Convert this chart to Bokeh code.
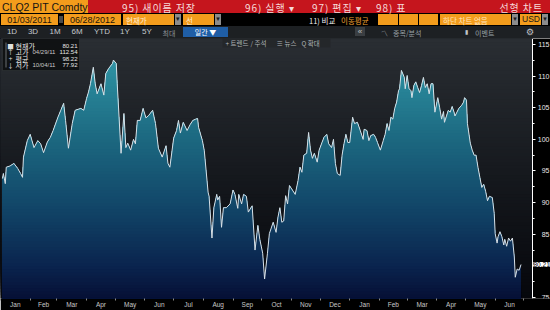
import numpy as np
import pandas as pd
from bokeh.plotting import figure
from bokeh.models import Range1d, FixedTicker, DatetimeTickFormatter, Label, BoxAnnotation, Div
from bokeh.layouts import column
from bokeh.embed import file_html
from bokeh.resources import INLINE

# ---------------- data ----------------
dates = [
    "2011-01-03", "2011-01-04", "2011-01-06", "2011-01-07", "2011-01-11", "2011-01-15", "2011-01-19", "2011-01-22", "2011-01-24", "2011-01-25", "2011-01-29",
    "2011-02-01", "2011-02-05", "2011-02-09", "2011-02-12", "2011-02-15", "2011-02-19", "2011-02-22", "2011-02-25",
    "2011-03-02", "2011-03-05", "2011-03-08", "2011-03-10", "2011-03-13", "2011-03-17", "2011-03-20", "2011-03-26", "2011-03-29",
    "2011-04-01", "2011-04-03", "2011-04-05", "2011-04-08", "2011-04-10", "2011-04-12", "2011-04-16", "2011-04-19", "2011-04-21", "2011-04-24", "2011-04-28", "2011-04-29",
    "2011-05-02", "2011-05-03", "2011-05-07", "2011-05-10", "2011-05-12", "2011-05-14", "2011-05-17", "2011-05-20", "2011-05-22", "2011-05-24", "2011-05-27", "2011-05-30",
    "2011-06-02", "2011-06-05", "2011-06-09", "2011-06-12", "2011-06-15", "2011-06-19", "2011-06-23", "2011-06-25", "2011-06-27",
    "2011-07-01", "2011-07-04", "2011-07-06", "2011-07-08", "2011-07-11", "2011-07-15", "2011-07-18", "2011-07-21", "2011-07-24", "2011-07-26", "2011-07-27", "2011-07-31",
    "2011-08-02", "2011-08-06", "2011-08-07", "2011-08-10", "2011-08-12", "2011-08-15", "2011-08-16", "2011-08-18", "2011-08-20", "2011-08-22", "2011-08-25", "2011-08-29",
    "2011-09-01", "2011-09-03", "2011-09-06", "2011-09-07", "2011-09-10", "2011-09-12", "2011-09-15", "2011-09-17", "2011-09-21", "2011-09-24", "2011-09-27", "2011-09-29",
    "2011-10-02", "2011-10-04", "2011-10-07", "2011-10-09", "2011-10-13", "2011-10-16", "2011-10-18", "2011-10-20", "2011-10-22", "2011-10-24", "2011-10-26", "2011-10-28", "2011-10-30",
    "2011-11-02", "2011-11-05", "2011-11-08", "2011-11-10", "2011-11-12", "2011-11-14", "2011-11-17", "2011-11-19", "2011-11-21", "2011-11-23", "2011-11-25", "2011-11-28", "2011-11-30",
    "2011-12-03", "2011-12-05", "2011-12-08", "2011-12-10", "2011-12-13", "2011-12-15", "2011-12-17", "2011-12-19", "2011-12-22", "2011-12-24", "2011-12-26", "2011-12-28", "2011-12-30",
    "2012-01-01", "2012-01-04", "2012-01-06", "2012-01-09", "2012-01-12", "2012-01-15", "2012-01-16", "2012-01-19", "2012-01-21", "2012-01-23", "2012-01-26", "2012-01-28", "2012-01-30",
    "2012-02-02", "2012-02-05", "2012-02-07", "2012-02-09", "2012-02-11", "2012-02-13", "2012-02-15", "2012-02-17", "2012-02-19", "2012-02-21", "2012-02-22", "2012-02-24", "2012-02-27", "2012-02-28",
    "2012-03-01", "2012-03-03", "2012-03-05", "2012-03-06", "2012-03-08", "2012-03-10", "2012-03-12", "2012-03-14", "2012-03-16", "2012-03-18", "2012-03-20", "2012-03-22", "2012-03-24", "2012-03-26", "2012-03-28", "2012-03-30",
    "2012-04-02", "2012-04-04", "2012-04-06", "2012-04-08", "2012-04-09", "2012-04-13", "2012-04-15", "2012-04-17", "2012-04-19", "2012-04-20", "2012-04-22", "2012-04-24", "2012-04-27", "2012-04-29", "2012-04-30",
    "2012-05-02", "2012-05-03", "2012-05-06", "2012-05-08", "2012-05-10", "2012-05-12", "2012-05-14", "2012-05-16", "2012-05-18", "2012-05-20", "2012-05-22", "2012-05-24", "2012-05-26", "2012-05-29", "2012-05-31",
    "2012-06-01", "2012-06-03", "2012-06-04", "2012-06-06", "2012-06-08", "2012-06-10", "2012-06-11", "2012-06-13", "2012-06-15", "2012-06-17", "2012-06-19", "2012-06-21", "2012-06-22", "2012-06-24", "2012-06-26", "2012-06-28",
]
prices = [
    93.8, 94.6, 93.0, 95.6, 95.8, 96.2, 95.4, 94.6, 94.0, 97.2, 99.8,
    100.8, 98.7, 99.8, 99.3, 97.9, 99.6, 100.3, 101.4,
    103.5, 104.6, 105.7, 103.0, 98.6, 102.5, 104.6, 104.9, 104.6,
    106.5, 107.5, 108.8, 111.4, 108.8, 107.2, 108.8, 107.0, 110.4, 111.2, 112.0, 112.54,
    112.0, 108.8, 97.8, 104.1, 98.7, 99.4, 98.3, 100.0, 99.3, 103.0, 103.0, 104.9,
    103.4, 103.8, 104.6, 102.5, 98.6, 97.2, 99.0, 96.2, 95.6,
    100.2, 101.4, 103.0, 101.0, 102.7, 101.4, 102.3, 103.0, 103.2, 103.3, 101.9, 99.8,
    98.2, 91.6, 91.0, 84.4, 89.2, 91.3, 90.4, 91.0, 86.1, 89.2, 89.2, 89.8,
    92.0, 91.3, 89.1, 91.3, 89.8, 91.3, 91.0, 88.5, 89.5, 82.5, 86.4, 84.2,
    82.0, 77.92, 82.0, 85.1, 86.9, 85.3, 87.7, 89.2, 86.9, 87.1, 91.1, 89.8, 92.7,
    92.0, 91.3, 93.5, 95.6, 94.8, 97.5, 97.8, 101.1, 98.3, 97.0, 97.8, 96.4, 98.3,
    99.5, 100.3, 100.8, 99.3, 98.7, 100.0, 96.2, 94.6, 94.3, 97.5, 99.3, 100.8, 99.5,
    99.5, 103.5, 102.5, 102.7, 101.4, 100.0, 101.6, 101.4, 99.8, 100.6, 100.8, 100.3, 99.5,
    98.3, 99.8, 100.8, 102.5, 101.4, 103.5, 103.2, 104.9, 105.9, 107.7, 108.0, 110.9, 109.8, 108.0,
    110.1, 108.0, 107.7, 106.6, 108.5, 109.1, 108.2, 107.4, 108.5, 109.8, 108.2, 108.8, 107.2, 108.8, 108.8, 104.3,
    106.6, 105.0, 103.2, 104.4, 102.7, 104.6, 104.3, 105.2, 104.3, 103.7, 104.3, 104.9, 105.4, 105.9, 106.6,
    106.2, 102.5, 99.4, 98.3, 97.5, 97.5, 95.6, 94.0, 92.4, 92.9, 91.8, 90.3, 91.0, 90.8, 88.3,
    85.1, 83.6, 84.6, 85.4, 84.6, 83.3, 84.2, 83.1, 84.4, 83.9, 84.4, 81.4, 78.2, 79.5, 79.3, 80.21,
]
y_ticks = [75, 80, 85, 90, 95, 100, 105, 110, 115]
month_starts = ["2011-01-01", "2011-02-01", "2011-03-01", "2011-04-01", "2011-05-01", "2011-06-01",
                "2011-07-01", "2011-08-01", "2011-09-01", "2011-10-01", "2011-11-01", "2011-12-01",
                "2012-01-01", "2012-02-01", "2012-03-01", "2012-04-01", "2012-05-01", "2012-06-01", "2012-07-01"]
legend_names = ["현재가", "고가", "평균", "저가"]
legend_dates = ["", "04/29/11", "", "10/04/11"]
legend_values = ["80.21", "112.54", "98.22", "77.92"]
legend_marks = ["■", "↑", "+", "↓"]

CJK = "Noto Sans CJK KR"
LAT = "Liberation Sans"


def to_ms(seq):
    return pd.to_datetime(pd.Series(seq)).values.astype("datetime64[ms]").astype("int64").astype(float)


xs = to_ms(dates)
ys = np.array(prices, dtype=float)
ms_month = to_ms(month_starts)
mid_month = (ms_month[:-1] + ms_month[1:]) / 2.0

x0 = to_ms(["2011-01-01"])[0]
x1 = to_ms(["2012-07-10"])[0]          # where the price axis stands
y0, y1 = 74.84, 115.95

FRAME_W = 550
AXIS_PX = 532                          # page x of the price axis
x_end = x0 + (x1 - x0) * FRAME_W / AXIS_PX


def interp_color(level, stops):
    lv = [s[0] for s in stops]
    r = np.interp(level, lv, [s[1][0] for s in stops])
    g = np.interp(level, lv, [s[1][1] for s in stops])
    b = np.interp(level, lv, [s[1][2] for s in stops])
    return "#%02x%02x%02x" % (int(round(r)), int(round(g)), int(round(b)))


area_stops = [(75, (6, 16, 54)), (80, (10, 36, 78)), (90, (18, 72, 106)), (100, (28, 104, 128)),
              (110, (42, 138, 156)), (116, (58, 160, 176))]
bg_stops = [(75, (6, 7, 12)), (95, (22, 25, 30)), (116, (42, 46, 51))]

# ---------------- main chart ----------------
FRAME_TOP = 38      # page y of the frame top
FRAME_H = 260
FRAME_BOTTOM = FRAME_TOP + FRAME_H

p = figure(frame_width=FRAME_W, frame_height=FRAME_H, x_axis_type="datetime", y_axis_location="left",
           x_range=Range1d(x0, x_end), y_range=Range1d(y0, y1),
           output_backend="svg", toolbar_location=None,
           min_border_left=0, min_border_right=0, min_border_top=0, min_border_bottom=12,
           background_fill_color="#000000", border_fill_color="#000000", outline_line_color=None)
p.grid.visible = False

# background gradient (chart area only, up to the price axis)
step = 0.5
bg_levels = np.arange(y0, y1, step)
p.quad(left=x0, right=x1, bottom=bg_levels, top=y1,
       fill_color=[interp_color(l + step / 2, bg_stops) for l in bg_levels], line_color=None)


def clipped_top(xv, yv, hi):
    ox, oy = [], []
    for i in range(len(xv)):
        if i > 0:
            a, b = yv[i - 1], yv[i]
            if (a - hi) * (b - hi) < 0:
                t = (hi - a) / (b - a)
                ox.append(xv[i - 1] + t * (xv[i] - xv[i - 1]))
                oy.append(hi)
        ox.append(xv[i])
        oy.append(min(yv[i], hi))
    return ox, oy


his = np.arange(y1, y0, -step)
px, py, pc = [], [], []
for hi in his:
    ox, oy = clipped_top(xs, ys, hi)
    px.append([ox[0]] + ox + [ox[-1]])
    py.append([y0] + oy + [y0])
    pc.append(interp_color(hi - step / 2, area_stops))
p.patches(xs=px, ys=py, fill_color=pc, line_color=None)

p.line(xs, ys, line_color="#d8e0e6", line_width=1.0)

# price axis: placed at x1 inside the frame, ticks and labels to its right
yax = p.yaxis[0]
yax.fixed_location = x1
minor_y = [(a + b) / 2 for a, b in zip(y_ticks[:-1], y_ticks[1:])]
yax.ticker = FixedTicker(ticks=y_ticks, minor_ticks=minor_y)
yax.major_label_overrides = {80: ""}   # hidden under the last-price tag, as in the terminal
yax.axis_line_color = "#ffffff"
yax.major_tick_line_color = "#ffffff"
yax.minor_tick_line_color = "#ffffff"
yax.major_tick_out = 0
yax.major_tick_in = 3
yax.minor_tick_out = 0
yax.minor_tick_in = 2
yax.major_label_text_color = "#e8e8e8"
yax.major_label_text_font = LAT
yax.major_label_text_font_size = "7px"
yax.major_label_standoff = -17

xax = p.xaxis[0]
xax.ticker = FixedTicker(ticks=list(mid_month), minor_ticks=list(ms_month))
xax.formatter = DatetimeTickFormatter(days="%b", months="%b", years="%b", hours="%b")
xax.axis_line_color = None
xax.major_tick_line_color = None
xax.major_tick_in = 0
xax.major_tick_out = 0
xax.minor_tick_line_color = "#8a8a8a"
xax.minor_tick_in = 0
xax.minor_tick_out = 2
xax.major_label_text_color = "#c8c8c8"
xax.major_label_text_font = LAT
xax.major_label_text_font_size = "6.5px"
xax.major_label_standoff = 0

# last price tag
p.add_layout(Label(x=x1, y=ys[-1], x_units="data", y_units="data", x_offset=1, text="%.2f" % ys[-1],
                   text_font=LAT, text_font_size="6.5px", text_color="#000000",
                   text_baseline="middle", background_fill_color="#ffffff"))


def fy(page_y):
    # screen units are measured upward from the frame bottom
    return FRAME_BOTTOM - page_y


# legend box
p.add_layout(BoxAnnotation(left=2, right=79, top=fy(38), bottom=fy(70),
                           left_units="screen", right_units="screen", top_units="screen", bottom_units="screen",
                           fill_color="#0d0f11", fill_alpha=0.9, line_color="#4a4e52", line_width=1))
p.add_layout(BoxAnnotation(left=5, right=6, top=fy(42), bottom=fy(67),
                           left_units="screen", right_units="screen", top_units="screen", bottom_units="screen",
                           fill_color="#6a6e72", fill_alpha=1.0, line_color=None))
rows_y = [45, 51.5, 58, 64.5]
for i in range(4):
    p.add_layout(Label(x=10, y=fy(rows_y[i]), x_units="screen", y_units="screen", text=legend_marks[i],
                       text_font=CJK, text_font_size="6.5px", text_color="#e0e0e0",
                       text_align="center", text_baseline="middle"))
    p.add_layout(Label(x=15, y=fy(rows_y[i]), x_units="screen", y_units="screen", text=legend_names[i],
                       text_font=CJK, text_font_size="7px", text_color="#e8e8e8",
                       text_baseline="middle"))
    if legend_dates[i]:
        p.add_layout(Label(x=32, y=fy(rows_y[i]), x_units="screen", y_units="screen", text=legend_dates[i],
                           text_font=LAT, text_font_size="6px", text_color="#c8c8c8",
                           text_baseline="middle"))
    p.add_layout(Label(x=77, y=fy(rows_y[i]), x_units="screen", y_units="screen", text=legend_values[i],
                       text_font=LAT, text_font_size="6px", text_color="#e8e8e8",
                       text_align="right", text_baseline="middle"))

# overlay tool buttons
p.add_layout(BoxAnnotation(left=222, right=330, top=fy(38), bottom=fy(47),
                           left_units="screen", right_units="screen", top_units="screen", bottom_units="screen",
                           fill_color="#24272a", fill_alpha=1.0, line_color=None))
for xx, s in [(225, "+ 트렌드"), (250, "/ 주석"), (276, "≡ 뉴스"), (301, "Q 확대")]:
    p.add_layout(Label(x=xx, y=fy(42.5), x_units="screen", y_units="screen", text=s,
                       text_font=CJK, text_font_size="6.5px", text_color="#aeb2b6",
                       text_baseline="middle"))

# ---------------- header (terminal bar, HTML) ----------------
ORG = "#f39c1c"
GRY = "#8c8c8c"
RED = "#c5151d"
parts = []


def el(l, t, w, hgt, text="", bg=None, color="#ffffff", size=9, align="left", font=CJK, pad=0, ls=0):
    style = ("position:absolute;left:%spx;top:%spx;width:%spx;height:%spx;line-height:%spx;"
             "font-family:'%s';font-size:%spx;color:%s;text-align:%s;white-space:nowrap;"
             "overflow:visible;box-sizing:border-box;padding-left:%spx;margin:0;letter-spacing:%spx;"
             % (l, t, w, hgt, hgt, font, size, color, align, pad, ls))
    if bg:
        style += "background:%s;" % bg
    parts.append('<div style="%s">%s</div>' % (style, text))


# row 1
el(0, 0, 88, 13, "", ORG)
el(0, 0.7, 88, 13, "CLQ2 PIT Comdty", None, "#141414", 10.5, font=LAT, pad=2)
el(88, 0, 462, 13, "", RED)
el(122, 0.7, 110, 13, "95) 새이름 저장", None, "#f6dada", 10, ls=0.9)
el(245, 0.7, 70, 13, "96) 실행 ▾", None, "#f6dada", 10, ls=0.9)
el(312, 0.7, 70, 13, "97) 편집 ▾", None, "#f6dada", 10, ls=0.9)
el(376, 0.7, 50, 13, "98) 표", None, "#f6dada", 10, ls=0.9)
el(455, 0.7, 88, 13, "선형 차트", None, "#f6dada", 10, align="right", ls=0.9)
# row 2
el(1, 14, 57, 11, "", ORG)
el(1, 14.5, 57, 11, "01/03/2011", None, "#1e1408", 9, align="center", font=LAT)
el(58.5, 16, 4.5, 7, "", "#4a4a4a")
el(64, 14, 57, 11, "", ORG)
el(64, 14.5, 57, 11, "06/28/2012", None, "#1e1408", 9, align="center", font=LAT)
el(123, 14, 51, 11, "", ORG)
el(123, 14.5, 51, 11, "현재가", None, "#fff0d8", 7.5, pad=3)
el(174.5, 14, 6.5, 11, "▾", GRY, "#1a1a1a", 7, align="center", font="DejaVu Sans")
el(183, 14, 31, 11, "", ORG)
el(183, 14.5, 31, 11, "선", None, "#fff0d8", 7.5, pad=3)
el(215, 14, 6, 11, "▾", GRY, "#1a1a1a", 7, align="center", font="DejaVu Sans")
el(309, 14.5, 32, 11, "11) 비교", None, "#f0f0f0", 7.5)
el(341, 14.5, 36, 11, "이동평균", None, "#f0a030", 7.5)
el(378, 14, 19.5, 11, "", ORG)
el(398.5, 14, 19, 11, "", ORG)
el(418.5, 14, 19.5, 11, "", ORG)
el(440, 14, 71, 11, "", ORG)
el(440, 14.5, 71, 11, "하단 차트 없음", None, "#ffe6c0", 7.5, pad=3)
el(512, 14, 6, 11, "▾", GRY, "#1a1a1a", 7, align="center", font="DejaVu Sans")
el(520, 14, 21, 11, "USD", ORG, "#1a1a1a", 8.5, font=LAT, pad=2)
el(542, 14, 6, 11, "▾", GRY, "#1a1a1a", 7, align="center", font="DejaVu Sans")
# row 3
el(0, 26, 550, 12, "", "#1d2023")
for xx, s in [(12, "1D"), (33, "3D"), (55, "1M"), (77, "6M"), (102, "YTD"), (125, "1Y"), (147, "5Y")]:
    el(xx - 10, 26, 20, 12, s, None, "#c4c8cc", 8, align="center", font=LAT)
el(159, 26.5, 20, 12, "최대", None, "#8c9094", 7, align="center")
el(183, 26.5, 45, 10.5, "", "#1f5ea6")
el(183, 26.8, 45, 10.5, "일간 ▼", None, "#ffffff", 7, align="center")
el(355, 27, 10, 9, "«", "#3a3e42", "#c0c0c0", 8, align="center", font=LAT)
el(381, 26.5, 10, 12, "〽", None, "#a0a6ac", 7)
el(393, 26.5, 45, 12, "종목/분석", None, "#9aa0a6", 7)
el(465, 26, 8, 12, "▮", None, "#c0c4c8", 6, font="DejaVu Sans")
el(475, 26.5, 30, 12, "이벤트", None, "#9aa0a6", 7)
el(525, 26, 10, 12, "⚙", None, "#c0c4c8", 9, align="center", font="DejaVu Sans")

header_html = ('<div style="position:relative;width:550px;height:38px;background:#000000;overflow:hidden;margin:0;">'
               + "".join(parts) + "</div>")
header = Div(text=header_html, width=550, height=38, margin=0)

layout = column(header, p, spacing=0)
open("out.html", "w").write(file_html(layout, INLINE))
